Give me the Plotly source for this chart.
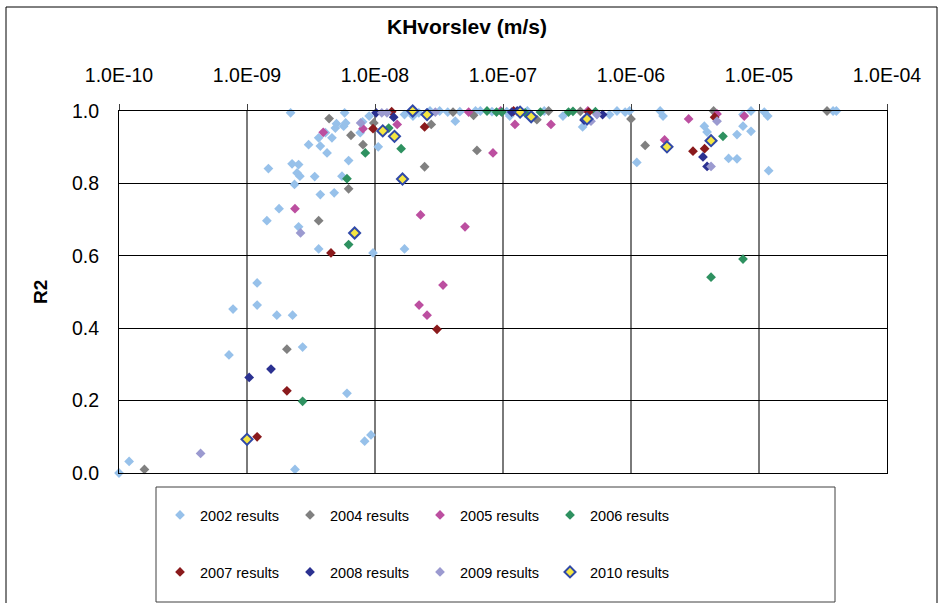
import plotly.graph_objects as go

# Hydraulic conductivity (KHvorslev, m/s) and fit quality (R2) per test campaign
kh_2002 = [1.0e-10, 1.2e-10, 7.23e-10, 7.78e-10, 1.2e-9, 1.2e-9, 1.43e-9, 1.47e-9, 1.71e-9,
           1.78e-9, 2.19e-9, 2.25e-9, 2.27e-9, 2.35e-9, 2.37e-9, 2.46e-9, 2.53e-9, 2.53e-9,
           2.59e-9, 2.72e-9, 3.03e-9, 3.38e-9, 3.63e-9, 3.63e-9, 3.74e-9, 3.74e-9, 4.1e-9,
           4.22e-9, 4.61e-9, 4.8e-9, 4.9e-9, 5.0e-9, 5.52e-9, 5.69e-9, 5.79e-9, 5.9e-9,
           6.04e-9, 6.22e-9, 7.67e-9, 8.0e-9, 8.3e-9, 9.0e-9, 9.3e-9, 9.65e-9, 1.06e-8,
           1.7e-8, 1.7e-8, 1.98e-8, 2.2e-8, 2.69e-8, 3.2e-8, 3.7e-8, 4.24e-8, 4.6e-8,
           6.1e-8, 6.65e-8, 8.2e-8, 1.07e-7, 1.13e-7, 1.55e-7, 2.1e-7, 2.94e-7, 4.19e-7,
           6.8e-7, 7.77e-7, 9.0e-7, 9.75e-7, 1.11e-6, 1.69e-6, 1.78e-6, 3.74e-6, 3.93e-6,
           5.79e-6, 6.73e-6, 6.73e-6, 7.5e-6, 7.5e-6, 8.66e-6, 8.66e-6, 1.1e-5, 1.17e-5,
           1.19e-5, 3.79e-5, 4.02e-5]
r2_2002 = [0.0, 0.032, 0.326, 0.453, 0.464, 0.525, 0.697, 0.841, 0.436,
           0.730, 0.995, 0.854, 0.436, 0.797, 0.010, 0.829, 0.852, 0.680,
           0.820, 0.348, 0.907, 0.819, 0.926, 0.619, 0.903, 0.769, 0.940,
           0.884, 0.926, 0.774, 0.953, 0.965, 0.820, 0.958, 0.995, 0.967,
           0.220, 0.863, 0.940, 0.970, 0.088, 0.986, 0.105, 0.608, 0.901,
           0.619, 0.990, 0.986, 0.995, 1.0, 1.0, 0.997, 0.972, 0.998,
           1.0, 1.0, 0.998, 0.998, 0.986, 1.0, 1.0, 0.986, 0.956,
           0.990, 1.0, 0.997, 1.0, 0.858, 1.0, 0.986, 0.958, 0.942,
           0.869, 0.868, 0.935, 0.990, 0.958, 1.0, 0.944, 0.997, 0.986,
           0.835, 1.0, 1.0]

kh_2004 = [1.58e-10, 2.05e-9, 3.63e-9, 4.38e-9, 6.22e-9, 6.49e-9, 8.06e-9, 9.79e-9, 2.44e-8,
           2.75e-8, 4.07e-8, 5.89e-8, 6.26e-8, 1.84e-7, 2.27e-7, 4.02e-7, 1.0e-6, 1.29e-6,
           4.42e-6, 3.4e-5]
r2_2004 = [0.010, 0.342, 0.697, 0.979, 0.785, 0.933, 0.907, 0.967, 0.846,
           0.963, 0.997, 0.988, 0.891, 0.976, 1.0, 0.999, 0.978, 0.905,
           1.0, 1.0]

kh_2005 = [2.37e-9, 3.94e-9, 8.06e-9, 1.49e-8, 2.21e-8, 2.27e-8, 2.55e-8, 3.4e-8, 5.05e-8,
           5.39e-8, 8.35e-8, 9.6e-8, 1.24e-7, 2.37e-7, 4.6e-7, 1.83e-6, 2.82e-6, 4.7e-6,
           7.67e-6]
r2_2005 = [0.730, 0.941, 0.951, 0.963, 0.464, 0.713, 0.436, 0.519, 0.680,
           0.997, 0.884, 1.0, 0.963, 0.963, 1.0, 0.920, 0.978, 0.992,
           0.986]

kh_2006 = [2.72e-9, 6.04e-9, 6.22e-9, 8.4e-9, 1.28e-8, 1.6e-8, 7.5e-8, 8.9e-8, 9.8e-8,
           1.49e-7, 1.96e-7, 3.25e-7, 3.52e-7, 5.27e-7, 4.22e-6, 5.23e-6, 7.5e-6]
r2_2006 = [0.198, 0.813, 0.631, 0.884, 0.953, 0.896, 1.0, 0.997, 0.997,
           0.995, 0.997, 0.997, 0.999, 0.998, 0.541, 0.930, 0.591]

kh_2007 = [1.2e-9, 2.05e-9, 4.53e-9, 9.65e-9, 1.35e-8, 2.44e-8, 3.05e-8, 1.21e-7, 4.67e-7,
           3.05e-6, 3.76e-6, 4.5e-6]
r2_2007 = [0.100, 0.227, 0.608, 0.951, 0.998, 0.956, 0.397, 1.0, 0.997,
           0.889, 0.896, 0.983]

kh_2008 = [1.04e-9, 1.54e-9, 1.02e-8, 1.4e-8, 1.17e-7, 1.29e-7, 4.3e-7, 6.0e-7, 3.65e-6,
           3.93e-6]
r2_2008 = [0.264, 0.287, 0.995, 0.983, 0.997, 1.0, 0.975, 0.990, 0.873,
           0.847]

kh_2009 = [4.34e-10, 2.62e-9, 7.72e-9, 1.13e-8, 1.24e-8, 2.96e-8, 4.87e-7, 5.42e-7, 4.22e-6,
           4.7e-6]
r2_2009 = [0.054, 0.663, 0.967, 0.995, 0.995, 0.997, 0.972, 0.990, 0.847,
           0.972]

kh_2010 = [1.0e-9, 6.93e-9, 1.15e-8, 1.42e-8, 1.64e-8, 1.97e-8, 2.55e-8, 1.36e-7, 1.66e-7,
           4.53e-7, 1.91e-6, 4.22e-6]
r2_2010 = [0.093, 0.663, 0.945, 0.930, 0.812, 1.0, 0.990, 0.997, 0.984,
           0.978, 0.901, 0.918]

x_ticks = [1e-10, 1e-9, 1e-8, 1e-7, 1e-6, 1e-5, 1e-4]
x_tick_text = ["1.0E-10", "1.0E-09", "1.0E-08", "1.0E-07", "1.0E-06", "1.0E-05", "1.0E-04"]
y_ticks = [0.0, 0.2, 0.4, 0.6, 0.8, 1.0]
y_tick_text = ["0.0", "0.2", "0.4", "0.6", "0.8", "1.0"]

FONT = "Liberation Sans, Arial, sans-serif"

series = [
    ("2002 results", kh_2002, r2_2002, "#97C1EA", None, "legend"),
    ("2004 results", kh_2004, r2_2004, "#808080", None, "legend"),
    ("2005 results", kh_2005, r2_2005, "#BC4FA0", None, "legend"),
    ("2006 results", kh_2006, r2_2006, "#2E9160", None, "legend"),
    ("2007 results", kh_2007, r2_2007, "#8A1A1C", None, "legend2"),
    ("2008 results", kh_2008, r2_2008, "#2B3191", None, "legend2"),
    ("2009 results", kh_2009, r2_2009, "#9B9AD0", None, "legend2"),
    ("2010 results", kh_2010, r2_2010, "#F5E642", "#3049A8", "legend2"),
]

fig = go.Figure()
for name, xs, ys, color, edge, leg in series:
    if edge:
        marker = dict(symbol="diamond", size=8.5, color=color, line=dict(color=edge, width=2))
    else:
        marker = dict(symbol="diamond", size=7.5, color=color, line=dict(width=0))
    fig.add_trace(go.Scatter(x=xs, y=ys, mode="markers", name=name, marker=marker,
                             legend=leg, cliponaxis=False))

W, H = 939, 603
L, R, T, B = 119, 52, 111, 130
pw, ph = W - L - R, H - T - B


def px_x(p):
    return (p - L) / pw


def px_y(p):
    return (H - B - p) / ph


fig.update_layout(
    width=W, height=H,
    margin=dict(l=L, r=R, t=T, b=B, pad=0),
    paper_bgcolor="white", plot_bgcolor="white",
    font=dict(family=FONT, color="black"),
    xaxis=dict(
        type="log", range=[-10, -4], side="top",
        tickvals=x_ticks, ticktext=x_tick_text,
        tickfont=dict(size=19.5, family=FONT, color="black"),
        ticks="outside", ticklen=6, tickcolor="#404040", tickwidth=1,
        ticklabelstandoff=14,
        showgrid=True, gridcolor="#7a7a7a", gridwidth=1.6,
        showline=True, linecolor="black", linewidth=1, mirror=True,
        zeroline=False,
    ),
    yaxis=dict(
        range=[0, 1], tickvals=y_ticks, ticktext=y_tick_text,
        tickfont=dict(size=19.5, family=FONT, color="black"),
        ticks="", ticklabelstandoff=15,
        showgrid=True, gridcolor="black", gridwidth=1,
        showline=True, linecolor="black", linewidth=1, mirror=True,
        zeroline=False,
    ),
    showlegend=True,
    legend=dict(
        orientation="h", x=px_x(160), xanchor="left", y=px_y(515), yanchor="middle",
        entrywidth=85, font=dict(size=14.5, family=FONT, color="black"),
        bgcolor="rgba(0,0,0,0)", borderwidth=0,
    ),
    legend2=dict(
        orientation="h", x=px_x(160), xanchor="left", y=px_y(572), yanchor="middle",
        entrywidth=85, font=dict(size=14.5, family=FONT, color="black"),
        bgcolor="rgba(0,0,0,0)", borderwidth=0,
    ),
    annotations=[
        dict(text="<b>KHvorslev (m/s)</b>", x=px_x(467), y=px_y(27), xref="paper", yref="paper",
             showarrow=False, xanchor="center", yanchor="middle",
             font=dict(size=21, family=FONT, color="black")),
        dict(text="<b>R2</b>", x=px_x(40), y=0.5, xref="paper", yref="paper",
             showarrow=False, textangle=-90, xanchor="center", yanchor="middle",
             font=dict(size=19, family=FONT, color="black")),
    ],
    shapes=[
        # outer chart frame
        dict(type="rect", xref="paper", yref="paper",
             x0=px_x(6), x1=px_x(937), y0=px_y(640), y1=px_y(7),
             line=dict(color="black", width=1), fillcolor="rgba(0,0,0,0)", layer="below"),
        # legend frame
        dict(type="rect", xref="paper", yref="paper",
             x0=px_x(156), x1=px_x(835), y0=px_y(602), y1=px_y(487),
             line=dict(color="#404040", width=1), fillcolor="rgba(0,0,0,0)", layer="below"),
    ],
)

fig.write_html("out.html")
